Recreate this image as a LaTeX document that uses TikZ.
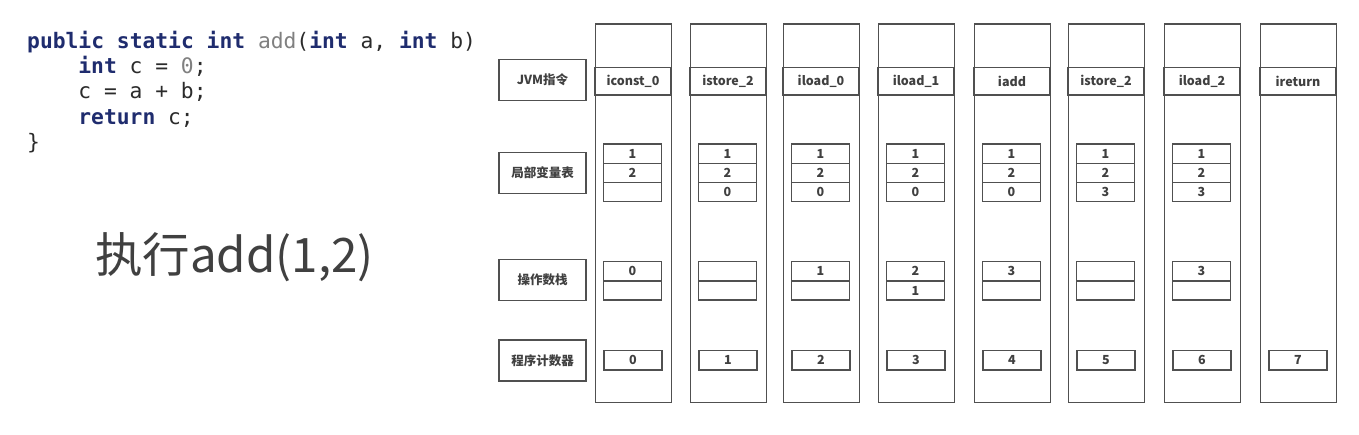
\documentclass[tikz,border=0pt]{standalone}
\usepackage{fontspec}
\usepackage{xcolor}
\usetikzlibrary{positioning}
\setmainfont{DejaVu Sans}
\setmonofont{DejaVu Sans Mono}
\newfontfamily\cjkfont{Noto Sans CJK SC}

\definecolor{kwblue}{HTML}{1F2C6E}
\definecolor{codeink}{HTML}{2B2B2B}
\definecolor{fngray}{HTML}{808080}
\definecolor{boxink}{HTML}{505050}
\definecolor{txtink}{HTML}{404040}

\newcommand\kwd[1]{{\bfseries\color{kwblue}#1}}

\tikzset{
	code/.style={anchor=base west,inner sep=0pt,text=codeink,font=\ttfamily\fontsize{21.3}{21.3}\selectfont},
	colbox/.style={draw=boxink,line width=1.3pt,minimum width=76pt,minimum height=378.4pt,inner sep=0pt,anchor=north west},
	instr/.style={draw=boxink,line width=1.3pt,minimum width=76pt,minimum height=27.6pt,inner sep=0pt,anchor=north,
		text=txtink,font=\cjkfont\bfseries\fontsize{12.5}{12.5}\selectfont},
	cell/.style={draw=boxink,line width=1.3pt,minimum width=58pt,minimum height=19.2pt,inner sep=0pt,outer sep=0pt,
		text=txtink,font=\cjkfont\bfseries\fontsize{12.5}{12.5}\selectfont},
	rowlabel/.style={draw=boxink,line width=1.5pt,minimum width=87pt,minimum height=41pt,inner sep=0pt,
		text=txtink,font=\cjkfont\bfseries\fontsize{12.5}{12.5}\selectfont},
}

\begin{document}
\begin{tikzpicture}[x=1pt,y=-1pt]
	\fill[white] (0,0) rectangle (1359,434);
	\useasboundingbox (0,0) rectangle (1359,434);

	% source of add
	\node[code] (code1) at (27,48) {\kwd{public static int} {\color{fngray}add}(\kwd{int} a, \kwd{int} b)};
	\node[code] (code2) at (78.2,73) {\kwd{int} c = {\color{fngray}0};};
	\node[code] (code3) at (78.2,98.5) {c = a + b;};
	\node[code] (code4) at (78.2,124) {\kwd{return} c;};
	\node[code] (code5) at (27,149) {\}};

	\node[anchor=base west,inner sep=0pt,text=txtink,font=\cjkfont\fontsize{47.5}{47.5}\selectfont] (call) at (95,272) {执行add(1,2)};

	% row labels
	\node[rowlabel] (jvm) at (542.5,79.8) {JVM指令};
	\node[rowlabel] (locals) at (542.5,172.8) {局部变量表};
	\node[rowlabel] (stack) at (542.5,280) {操作数栈};
	\node[rowlabel] (pc) at (542.5,360.3) {程序计数器};

	% one column per instruction
	\foreach \x/\ins/\n [count=\i] in {595/iconst\_0/0,690/istore\_2/1,783/iload\_0/2,878/iload\_1/3,
		974/iadd/4,1068/istore\_2/5,1164/iload\_2/6,1260/ireturn/7}{
		\node[colbox] (col\i) at (\x,23.3) {};
		\node[instr] (ins\i) at (\x+38,66.7) {\ins};
		\node[cell] (pc\i) at (\x+38,360.3) {\n};
	}

	% local variable table and operand stack
	\foreach \la/\lb/\lc/\sa/\sb [count=\i] in {1/2/{}/0/{},1/2/0/{}/{},1/2/0/1/{},1/2/0/2/1,
		1/2/0/3/{},1/2/3/{}/{},1/2/3/3/{}}{
		\node[cell] (lv\i-1) at (col\i.north west) [xshift=37.5pt,yshift=-130.3pt] {\la};
		\node[cell,below=0pt of lv\i-1] (lv\i-2) {\lb};
		\node[cell,below=0pt of lv\i-2] (lv\i-3) {\lc};
		\node[cell] (os\i-1) at (col\i.north west) [xshift=37.5pt,yshift=-248pt] {\sa};
		\node[cell,below=0pt of os\i-1] (os\i-2) {\sb};
	}
\end{tikzpicture}
\end{document}
